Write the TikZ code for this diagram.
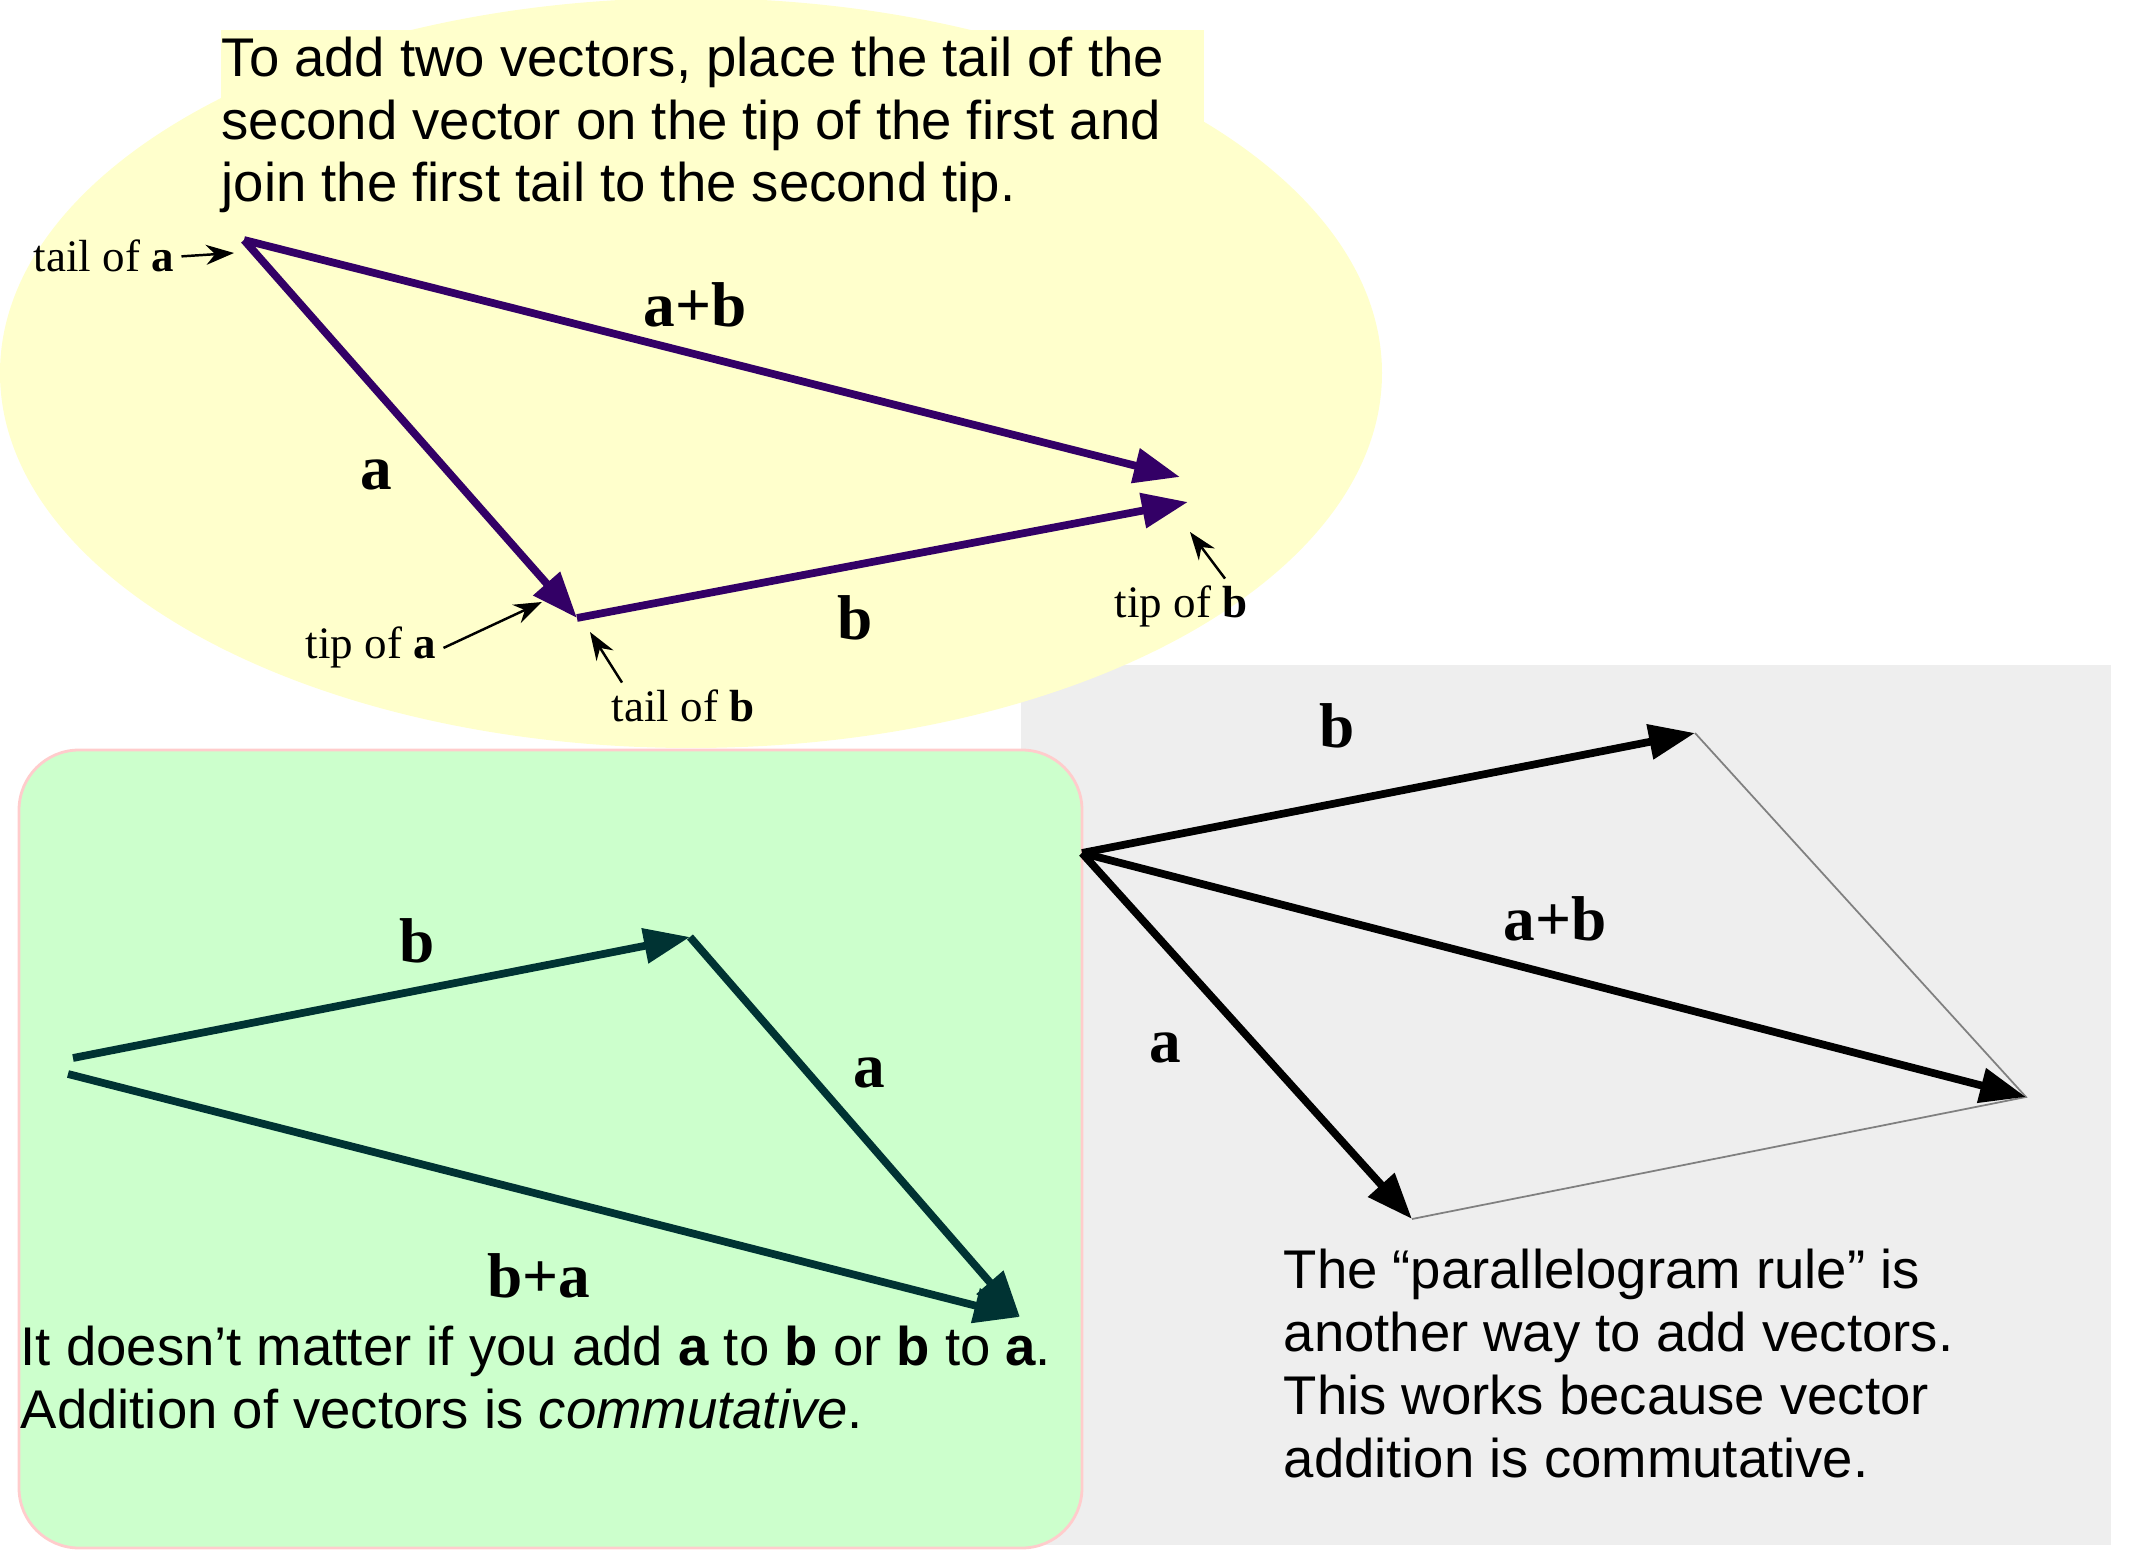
\documentclass[tikz,border=0pt]{standalone}
\usepackage{fontspec}
\setmainfont{Liberation Serif}
\setsansfont{Liberation Sans}
\usetikzlibrary{arrows.meta}

\definecolor{paleyellow}{HTML}{FFFFCC}
\definecolor{palegreen}{HTML}{CCFFCC}
\definecolor{palepink}{HTML}{FFCCCC}
\definecolor{panelgray}{HTML}{EEEEEE}
\definecolor{vecpurple}{HTML}{330066}
\definecolor{vecteal}{HTML}{003333}

\tikzset{
  vec/.style={line width=2.2pt, -{Triangle[length=0.46cm,width=0.34cm]}},
  ptr/.style={line width=0.7pt, -{Stealth[length=0.28cm,width=0.2cm]}},
  vlabel/.style={font=\fontsize{18}{20}\selectfont\bfseries},
  tag/.style={font=\fontsize{12.8}{15}\selectfont, inner sep=2pt, anchor=base west},
  note/.style={font=\sffamily\fontsize{15.5}{17.9}\selectfont, align=left, inner sep=0pt, anchor=base west}
}

\begin{document}
\begin{tikzpicture}[x=0.01cm, y=-0.01cm]
\useasboundingbox (0,0) rectangle (2129,1555);

% backgrounds
\fill[panelgray] (1021,665) rectangle (2111,1545);
\fill[paleyellow] (691,373) ellipse [x radius=691, y radius=375];
\fill[paleyellow] (221,30) rectangle (1204,200);
\draw[palepink, fill=palegreen, rounded corners=0.6cm, line width=0.8pt] (19,750) rectangle (1082,1548);

% tip to tail
\node[note] (intro) at (221,202) {To add two vectors, place the tail of the\\second vector on the tip of the first and\\join the first tail to the second tip.};
\coordinate (tailA) at (244,240);
\coordinate (tipA) at (577,618);
\coordinate (tipB) at (1188,502);
\coordinate (tipS) at (1180,477);
\draw[vec, vecpurple] (tailA) -- (tipA);
\draw[vec, vecpurple] (tipA) -- (tipB);
\draw[vec, vecpurple] (tailA) -- (tipS);
\node[vlabel] (labS) at (695,305) {a+b};
\node[vlabel] (labA) at (376,475) {a};
\node[vlabel] (labB) at (855,618) {b};

\node[tag] (tagTailA) at (26,272) {tail of \textbf{a}};
\coordinate (ptTailA) at (234,253);
\draw[ptr] (tagTailA.east) -- (ptTailA);
\node[tag] (tagTipA) at (298,659) {tip of \textbf{a}};
\coordinate (ptTipA) at (542,602);
\draw[ptr] (tagTipA.east) -- (ptTipA);
\node[tag] (tagTailB) at (604,722) {tail of \textbf{b}};
\coordinate (ptTailB) at (590,632);
\draw[ptr] ([xshift=0.18cm]tagTailB.north west) -- (ptTailB);
\node[tag] (tagTipB) at (1107,618) {tip of \textbf{b}};
\coordinate (ptTipB) at (1190,532);
\draw[ptr] ([xshift=-0.3cm]tagTipB.north east) -- (ptTipB);

% commutative
\coordinate (gStartB) at (73,1058);
\coordinate (gStartS) at (68,1074);
\coordinate (gMid) at (690,937);
\coordinate (gEnd) at (1020,1317);
\draw[vec, vecteal] (gStartB) -- (gMid);
\draw[vec, vecteal] (gMid) -- (gEnd);
\draw[vec, vecteal] (gStartS) -- (gEnd);
\node[vlabel] (gLabB) at (417,941) {b};
\node[vlabel] (gLabA) at (869,1073) {a};
\node[vlabel] (gLabS) at (539,1276) {b+a};
\node[note] (commText) at (20,1428) {It doesn’t matter if you add \textbf{a} to \textbf{b} or \textbf{b} to \textbf{a}.\\Addition of vectors is \textit{commutative}.};

% parallelogram
\coordinate (pO) at (1082,853);
\coordinate (pB) at (1695,733);
\coordinate (pA) at (1412,1219);
\coordinate (pS) at (2026,1097);
\draw[gray, line width=0.5pt] (pB) -- (pS) -- (pA);
\draw[vec] (pO) -- (pB);
\draw[vec] (pO) -- (pA);
\draw[vec] (pO) -- (pS);
\node[vlabel] (pLabB) at (1337,726) {b};
\node[vlabel] (pLabS) at (1555,919) {a+b};
\node[vlabel] (pLabA) at (1165,1048) {a};
\node[note] (ruleText) at (1283,1477) {The “parallelogram rule” is\\another way to add vectors.\\This works because vector\\addition is commutative.};
\end{tikzpicture}
\end{document}
